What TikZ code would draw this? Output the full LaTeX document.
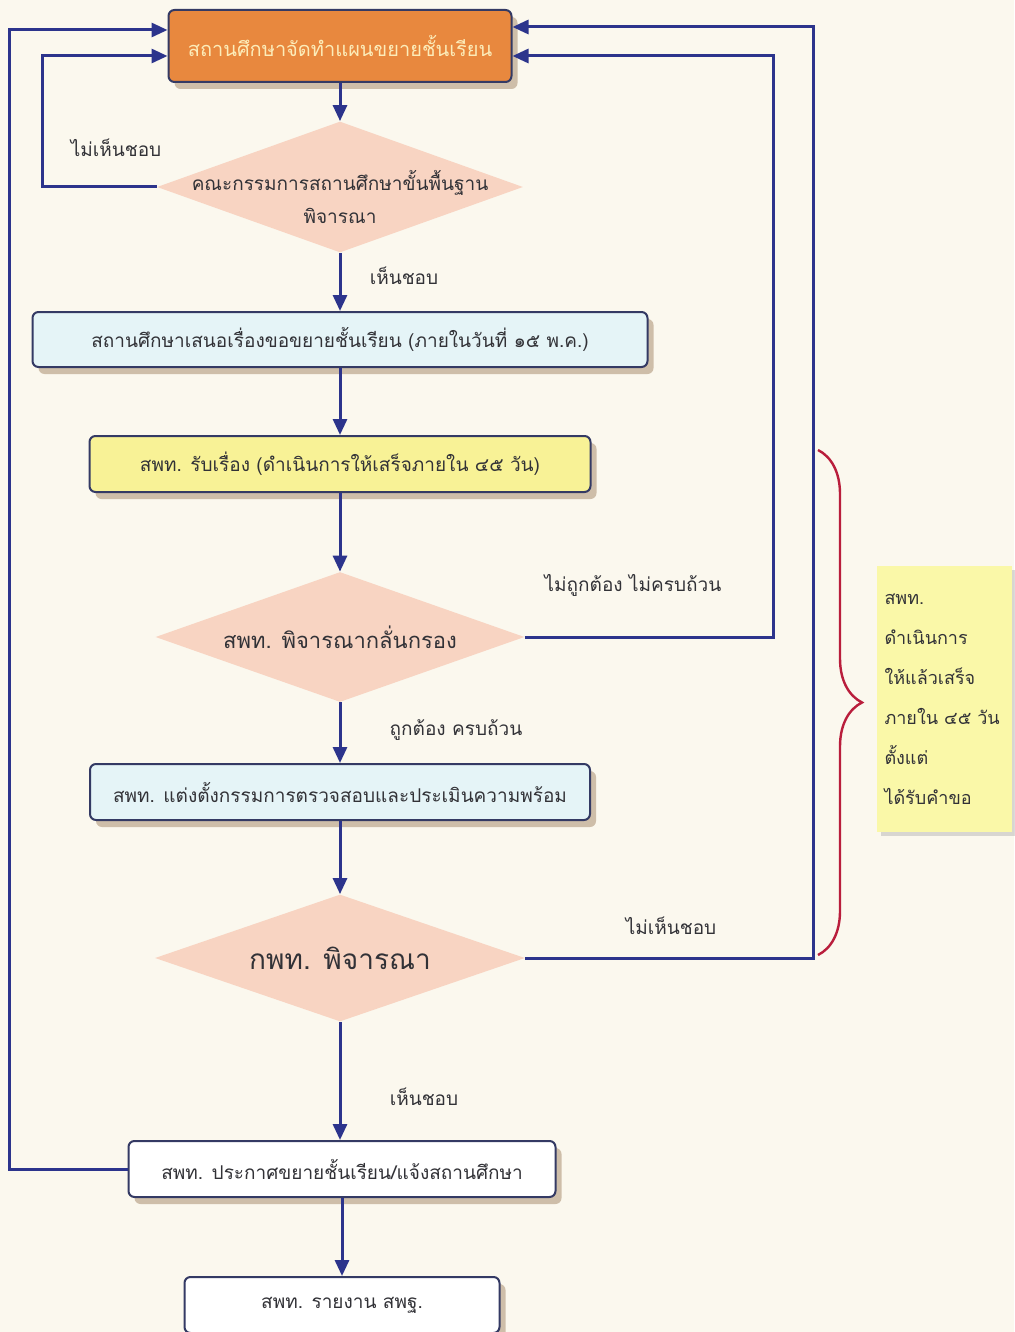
\documentclass[tikz,border=0pt]{standalone}
\usepackage{fontspec}
\newfontfamily\thaifont[Script=Thai]{Loma}
\usepackage{tikz}
\usetikzlibrary{positioning, arrows.meta, shapes, shadows}
\usetikzlibrary{decorations.pathreplacing}
\definecolor{bgcream}{RGB}{251,248,238}
\definecolor{flowblue}{RGB}{44,52,140}
\definecolor{boxline}{RGB}{52,58,100}
\definecolor{orangefill}{RGB}{232,136,62}
\definecolor{titlecream}{RGB}{252,236,185}
\definecolor{pinkfill}{RGB}{248,212,194}
\definecolor{bluefill}{RGB}{229,244,247}
\definecolor{yellowfill}{RGB}{248,242,150}
\definecolor{noteyellow}{RGB}{250,248,168}
\definecolor{bracered}{RGB}{185,30,60}
\definecolor{textgray}{RGB}{50,50,55}

\begin{document}
\begin{tikzpicture}[x=0.5pt, y=-0.5pt,
			font=\thaifont\fontsize{9.5}{11}\selectfont, text=textgray,
			box/.style={draw=boxline, line width=1pt, rounded corners=3pt, minimum height=28pt,
				drop shadow={shadow xshift=3pt, shadow yshift=-3.5pt, fill=black!35!brown, opacity=.35}},
			decision/.style={diamond, draw=none, fill=pinkfill, inner sep=0pt},
			flow/.style={draw=flowblue, line width=1.5pt, -{Triangle[length=8pt, width=7pt]}},
			note/.style={fill=noteyellow, minimum width=67.5pt, minimum height=133pt, text width=60pt,
				align=left, inner xsep=3.75pt, font=\thaifont\fontsize{9}{20}\selectfont,
				drop shadow={shadow xshift=2pt, shadow yshift=-2pt, fill=black!40, opacity=.35}}]
			
			\useasboundingbox (0,0) rectangle (1014,1332);
			\fill[bgcream] (0,0) rectangle (1014,1332);
			
			% main column
			\node[box, fill=orangefill, text=titlecream, minimum width=171.5pt, minimum height=36pt,
				font=\thaifont\fontsize{10}{12}\selectfont] (plan) at (340,46) {สถานศึกษาจัดทำแผนขยายชั้นเรียน};
			\node[decision, minimum width=183pt, minimum height=65.5pt,
				label={[align=center, yshift=-5pt, font=\thaifont\fontsize{9.5}{16.5}\selectfont]center:คณะกรรมการสถานศึกษาขั้นพื้นฐาน\\พิจารณา}] (board) at (340,187) {};
			\node[box, fill=bluefill, minimum width=307.5pt, minimum height=27.5pt] (propose) at (340,339.5) {สถานศึกษาเสนอเรื่องขอขยายชั้นเรียน (ภายในวันที่ ๑๕ พ.ค.)};
			\node[box, fill=yellowfill, minimum width=250.5pt] (receive) at (340,464) {สพท. รับเรื่อง (ดำเนินการให้เสร็จภายใน ๔๕ วัน)};
			\node[decision, minimum width=184.5pt, minimum height=65pt,
				label={[font=\thaifont\fontsize{11}{13}\selectfont]center:สพท. พิจารณากลั่นกรอง}] (screen) at (340,637) {};
			\node[box, fill=bluefill, minimum width=250pt] (appoint) at (340,792) {สพท. แต่งตั้งกรรมการตรวจสอบและประเมินความพร้อม};
			\node[decision, minimum width=185pt, minimum height=63.5pt,
				label={[font=\thaifont\fontsize{14}{16}\selectfont]center:กพท. พิจารณา}] (council) at (340,958) {};
			\node[box, fill=white, minimum width=213.5pt] (announce) at (342,1169) {สพท. ประกาศขยายชั้นเรียน/แจ้งสถานศึกษา};
			\node[box, fill=white, minimum width=157.5pt] (report) at (342,1305) {สพท. รายงาน สพฐ.};
			
			% side note
			\node[note] (remark) at (944.5,699) {สพท.\\ดำเนินการ\\ให้แล้วเสร็จ\\ภายใน ๔๕ วัน\\ตั้งแต่\\ได้รับคำขอ};
			\draw[bracered, line width=1.2pt, decorate, decoration={brace, amplitude=22pt}] (818,450) -- (818,955);
			
			% connectors
			\draw[flow] (plan) -- (board);
			\draw[flow] (board) -- (propose);
			\draw[flow] (propose) -- (receive);
			\draw[flow] (receive) -- (screen);
			\draw[flow] (screen) -- (appoint);
			\draw[flow] (appoint) -- (council);
			\draw[flow] (council) -- (council |- announce.north);
			\draw[flow] (announce) -- (report);
			\draw[flow] (board.west) -- ++(-114,0) |- ([yshift=-5pt]plan.west);
			\draw[flow] (announce.west) -- ++(-118.5,0) |- ([yshift=8pt]plan.west);
			\draw[flow] (screen.east) -- ++(249,0) |- ([yshift=-5pt]plan.east);
			\draw[flow] (council.east) -- ++(288,0) |- ([yshift=9.5pt]plan.east);
			
			% labels
			\node (noboard) at (116,148) {ไม่เห็นชอบ};
			\node (yesboard) at (404,276) {เห็นชอบ};
			\node (wrong) at (633,585) {ไม่ถูกต้อง ไม่ครบถ้วน};
			\node (right) at (456,730) {ถูกต้อง ครบถ้วน};
			\node (nocouncil) at (671,926) {ไม่เห็นชอบ};
			\node (yescouncil) at (424,1097) {เห็นชอบ};
		\end{tikzpicture}
\end{document}
